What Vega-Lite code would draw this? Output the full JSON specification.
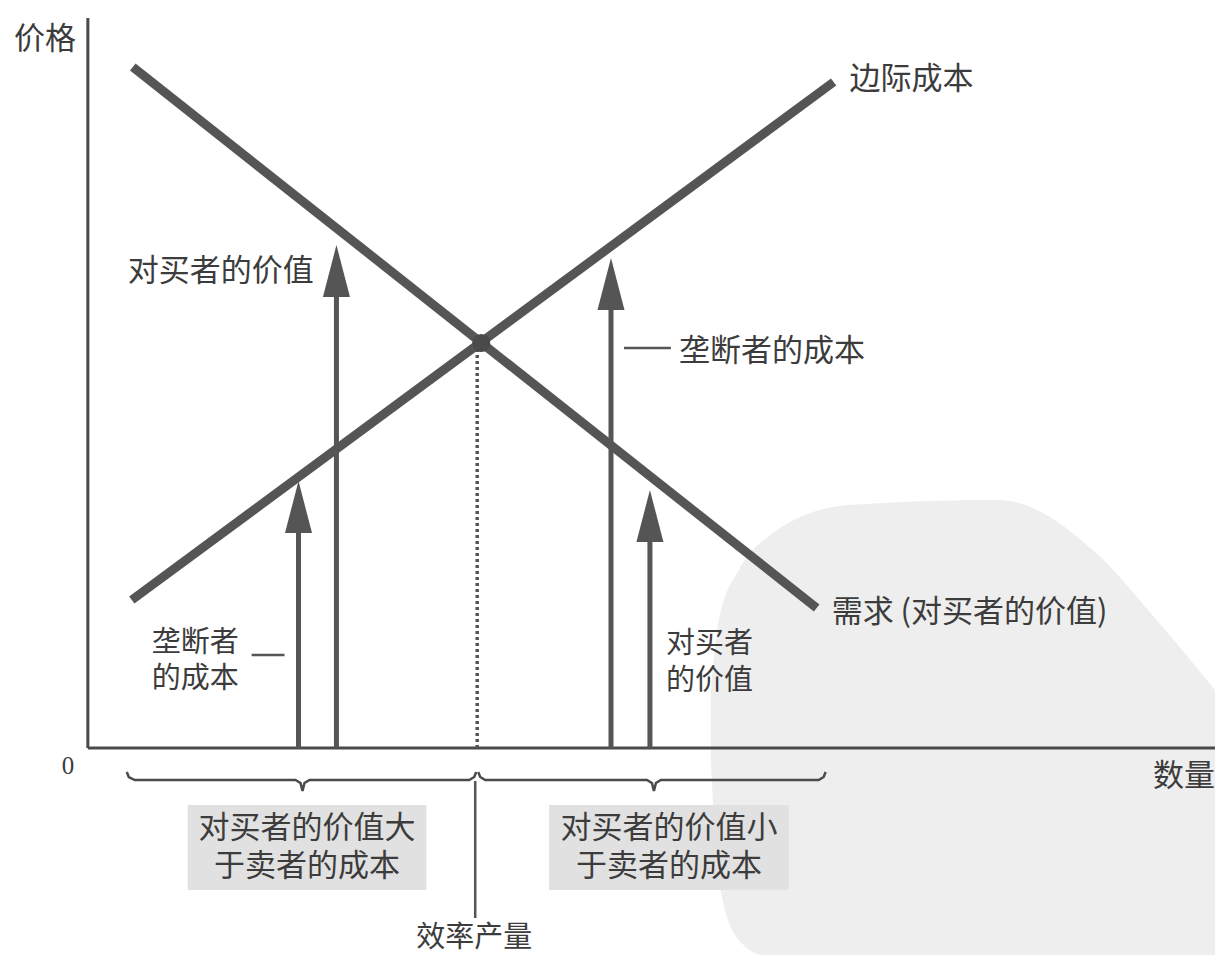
{
  "$schema": "https://vega.github.io/schema/vega-lite/v6.json",
  "width": 1217,
  "height": 955,
  "padding": 0,
  "autosize": {"type": "fit", "contains": "padding"},
  "background": "white",
  "config": {"view": {"stroke": null}, "font": "Noto Sans CJK SC"},
  "datasets": {
    "wm": [
      {"x": 62.4, "y": 5.8, "y2": -1.2},
      {"x": 63.2, "y": 12.8, "y2": -13.2},
      {"x": 65.2, "y": 17.8, "y2": -19.2},
      {"x": 67.7, "y": 20.8, "y2": -20.7},
      {"x": 76.2, "y": 24.3, "y2": -20.7},
      {"x": 91.2, "y": 24.8, "y2": -20.7},
      {"x": 101.2, "y": 19.3, "y2": -20.7},
      {"x": 106.2, "y": 13.8, "y2": -20.7},
      {"x": 112.9, "y": 5.8, "y2": -20.7}
    ],
    "boxes": [
      {"x": 10.0, "x2": 33.9, "y": -5.7, "y2": -14.2},
      {"x": 46.2, "x2": 70.2, "y": -5.7, "y2": -14.2}
    ],
    "axes": [
      {"x": 0, "y": 0, "x2": 0, "y2": 73.0},
      {"x": 0, "y": 0, "x2": 112.9, "y2": 0}
    ],
    "curves": [
      {"series": "需求", "x": 4.5, "y": 68.1},
      {"series": "需求", "x": 73.0, "y": 14.0},
      {"series": "边际成本", "x": 4.4, "y": 14.8},
      {"series": "边际成本", "x": 74.7, "y": 66.6}
    ],
    "dotted": [{"x": 39.0, "y": 0, "y2": 39.8}],
    "pt": [{"x": 39.4, "y": 40.5}],
    "shafts": [
      {"x": 21.1, "y": 0, "y2": 24.0},
      {"x": 24.9, "y": 0, "y2": 47.5},
      {"x": 52.4, "y": 0, "y2": 46.2},
      {"x": 56.3, "y": 0, "y2": 23.0}
    ],
    "heads": [
      {"x": 21.1, "y": 26.7},
      {"x": 24.9, "y": 50.3},
      {"x": 52.4, "y": 49.0},
      {"x": 56.3, "y": 25.8}
    ],
    "braces": [
      {"b": "L", "o": 1, "x": 3.9, "y": -2.4},
      {"b": "L", "o": 2, "x": 4.1, "y": -2.9},
      {"b": "L", "o": 3, "x": 4.7, "y": -3.2},
      {"b": "L", "o": 4, "x": 20.8, "y": -3.2},
      {"b": "L", "o": 5, "x": 21.3, "y": -3.5},
      {"b": "L", "o": 6, "x": 21.5, "y": -4.3},
      {"b": "L", "o": 7, "x": 21.7, "y": -3.5},
      {"b": "L", "o": 8, "x": 22.2, "y": -3.2},
      {"b": "L", "o": 9, "x": 38.2, "y": -3.2},
      {"b": "L", "o": 10, "x": 38.7, "y": -2.9},
      {"b": "L", "o": 11, "x": 38.9, "y": -2.4},
      {"b": "R", "o": 1, "x": 39.1, "y": -2.4},
      {"b": "R", "o": 2, "x": 39.3, "y": -2.9},
      {"b": "R", "o": 3, "x": 39.8, "y": -3.2},
      {"b": "R", "o": 4, "x": 56.0, "y": -3.2},
      {"b": "R", "o": 5, "x": 56.5, "y": -3.5},
      {"b": "R", "o": 6, "x": 56.7, "y": -4.3},
      {"b": "R", "o": 7, "x": 56.9, "y": -3.5},
      {"b": "R", "o": 8, "x": 57.4, "y": -3.2},
      {"b": "R", "o": 9, "x": 73.2, "y": -3.2},
      {"b": "R", "o": 10, "x": 73.7, "y": -2.9},
      {"b": "R", "o": 11, "x": 73.9, "y": -2.4}
    ],
    "leaders": [
      {"x": 38.8, "y": -3.3, "x2": 38.8, "y2": -17.0},
      {"x": 16.4, "y": 9.3, "x2": 19.7, "y2": 9.3},
      {"x": 53.7, "y": 40.0, "x2": 58.4, "y2": 40.0}
    ],
    "tleft": [
      {"t": "价格", "x": -7.4, "y": 70.8},
      {"t": "数量", "x": 106.7, "y": -2.9},
      {"t": "边际成本", "x": 76.3, "y": 66.8},
      {"t": "对买者的价值", "x": 4.0, "y": 47.6},
      {"t": "垄断者的成本", "x": 59.2, "y": 39.6},
      {"t": "需求 (对买者的价值)", "x": 74.5, "y": 13.5}
    ],
    "tleft2": [
      {"t": "垄断者", "x": 6.4, "y": 10.5},
      {"t": "的成本", "x": 6.4, "y": 6.9},
      {"t": "对买者", "x": 57.9, "y": 10.4},
      {"t": "的价值", "x": 57.9, "y": 6.7}
    ],
    "tbox": [
      {"t": "对买者的价值大", "x": 21.95, "y": -8.1},
      {"t": "于卖者的成本", "x": 21.95, "y": -11.9},
      {"t": "对买者的价值小", "x": 58.2, "y": -8.1},
      {"t": "于卖者的成本", "x": 58.2, "y": -11.9}
    ],
    "tcenter": [
      {"t": "效率产量", "x": 38.7, "y": -19.0}
    ],
    "tzero": [
      {"t": "0", "x": -2.0, "y": -1.8}
    ]
  },
  "encoding": {
    "x": {"field": "x", "type": "quantitative", "scale": {"domain": [-8.8, 112.9], "nice": false, "zero": false}, "axis": null},
    "y": {"field": "y", "type": "quantitative", "scale": {"domain": [-20.7, 74.8], "nice": false, "zero": false}, "axis": null}
  },
  "layer": [
    {
      "data": {"name": "wm"},
      "mark": {"type": "area", "color": "#eeeeee", "interpolate": "monotone"},
      "encoding": {"y2": {"field": "y2"}}
    },
    {
      "data": {"name": "boxes"},
      "mark": {"type": "rect", "color": "#e1e1e1"},
      "encoding": {"x2": {"field": "x2"}, "y2": {"field": "y2"}}
    },
    {
      "data": {"name": "axes"},
      "mark": {"type": "rule", "color": "#4a4a4a", "strokeWidth": 3},
      "encoding": {"x2": {"field": "x2"}, "y2": {"field": "y2"}}
    },
    {
      "data": {"name": "curves"},
      "mark": {"type": "line", "color": "#555555", "strokeWidth": 9, "strokeCap": "butt"},
      "encoding": {"detail": {"field": "series"}}
    },
    {
      "data": {"name": "dotted"},
      "mark": {"type": "rule", "color": "#555555", "strokeWidth": 3.5, "strokeDash": [3, 3]},
      "encoding": {"y2": {"field": "y2"}}
    },
    {
      "data": {"name": "pt"},
      "mark": {"type": "point", "shape": "circle", "filled": true, "opacity": 1, "size": 330, "color": "#4a4a4a"},
      "encoding": {}
    },
    {
      "data": {"name": "shafts"},
      "mark": {"type": "rule", "color": "#555555", "strokeWidth": 5},
      "encoding": {"y2": {"field": "y2"}}
    },
    {
      "data": {"name": "heads"},
      "mark": {"type": "point", "shape": "M0,0L0.52,2L-0.52,2Z", "filled": true, "opacity": 1, "size": 2704, "color": "#555555"},
      "encoding": {}
    },
    {
      "data": {"name": "braces"},
      "mark": {"type": "line", "color": "#4a4a4a", "strokeWidth": 2.5},
      "encoding": {"detail": {"field": "b"}, "order": {"field": "o", "type": "quantitative"}}
    },
    {
      "data": {"name": "leaders"},
      "mark": {"type": "rule", "color": "#555555", "strokeWidth": 2.5},
      "encoding": {"x2": {"field": "x2"}, "y2": {"field": "y2"}}
    },
    {
      "data": {"name": "tleft"},
      "mark": {"type": "text", "align": "left", "baseline": "middle", "fontSize": 31, "color": "#3c3c3c"},
      "encoding": {"text": {"field": "t"}}
    },
    {
      "data": {"name": "tleft2"},
      "mark": {"type": "text", "align": "left", "baseline": "middle", "fontSize": 29, "color": "#3c3c3c"},
      "encoding": {"text": {"field": "t"}}
    },
    {
      "data": {"name": "tbox"},
      "mark": {"type": "text", "align": "center", "baseline": "middle", "fontSize": 31, "color": "#3c3c3c"},
      "encoding": {"text": {"field": "t"}}
    },
    {
      "data": {"name": "tcenter"},
      "mark": {"type": "text", "align": "center", "baseline": "middle", "fontSize": 29, "color": "#3c3c3c"},
      "encoding": {"text": {"field": "t"}}
    },
    {
      "data": {"name": "tzero"},
      "mark": {"type": "text", "align": "center", "baseline": "middle", "fontSize": 25, "font": "Liberation Serif", "color": "#3c3c3c"},
      "encoding": {"text": {"field": "t"}}
    }
  ]
}
